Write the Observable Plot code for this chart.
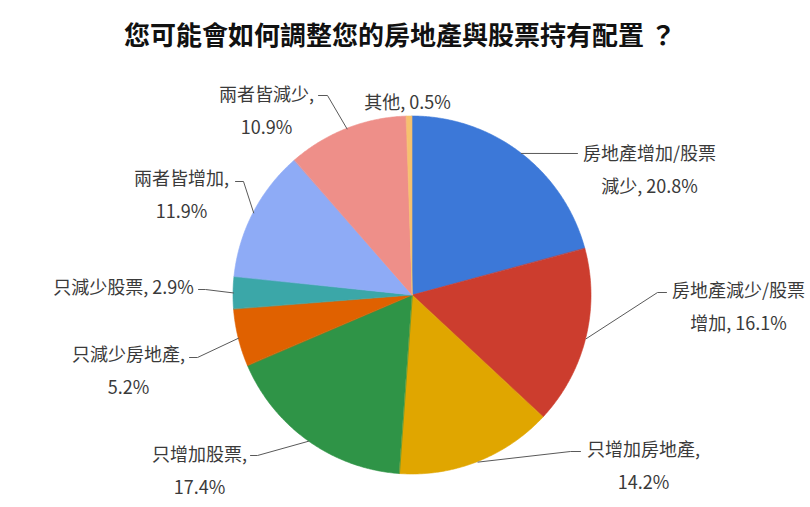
<!DOCTYPE html>
<html>
<head>
<meta charset="utf-8">
<script src="https://cdn.jsdelivr.net/npm/d3@7"></script>
<script src="https://cdn.jsdelivr.net/npm/@observablehq/plot@0.6"></script>
<style>
  html, body { margin: 0; padding: 0; background: #fff; }
  #title {
    height: 64px; box-sizing: border-box; padding-top: 5px; padding-right: 10px;
    line-height: 58px; text-align: center; font-size: 26px; font-weight: bold;
    font-family: "Noto Sans CJK TC", "Noto Sans", sans-serif; color: #111;
  }
  #chart svg { display: block; }
</style>
</head>
<body>
<div id="title">您可能會如何調整您的房地產與股票持有配置 ？</div>
<div id="chart"></div>
<script>
// ---- data ----
const categories = [
  "房地產增加/股票減少",
  "房地產減少/股票增加",
  "只增加房地產",
  "只增加股票",
  "只減少房地產",
  "只減少股票",
  "兩者皆增加",
  "兩者皆減少",
  "其他"
];
const values = [20.8, 16.1, 14.2, 17.4, 5.2, 2.9, 11.9, 10.9, 0.5];
const colors = ["#3c78d8", "#cc3d2e", "#e0a600", "#2f9447", "#e06100", "#3ba7a8", "#8eabf6", "#ee8f89", "#f6c16e"];

// ---- layout (pixel offsets from pie centre, y up) ----
const R = 179;
const layout = [
  {wrap: 8,      label: [237, 130],    leader: [[165, 142]]},
  {wrap: 8,      label: [326, -7],     leader: [[245, 3], [254, 3]]},
  {wrap: "name", label: [231, -166.5], leader: [[158, -156], [168, -156]]},
  {wrap: "name", label: [-213, -171],  leader: [[-155, -160], [-162, -160]]},
  {wrap: "name", label: [-284, -71.5], leader: [[-215, -62], [-223, -62]]},
  {wrap: null,   label: [-289, 12],    leader: [[-207, 6], [-214, 6]]},
  {wrap: "name", label: [-231, 104.5], leader: [[-169, 114], [-177, 114]]},
  {wrap: "name", label: [-146, 188.5], leader: [[-85, 200], [-94, 200]]},
  {wrap: null,   label: [-5, 197],     leader: []}
];

const total = d3.sum(values);
const slices = [];
let cum = 0;
categories.forEach((name, i) => {
  const a0 = cum / total * 2 * Math.PI;
  cum += values[i];
  const a1 = cum / total * 2 * Math.PI;
  slices.push({name, value: values[i], a0, a1, mid: (a0 + a1) / 2, i});
});

const arcPoints = [];
for (const s of slices) {
  const n = Math.max(2, Math.ceil((s.a1 - s.a0) / (Math.PI / 360)));
  for (let k = 0; k <= n; k++) {
    const a = s.a0 + (s.a1 - s.a0) * k / n;
    arcPoints.push({name: s.name, x: R * Math.sin(a), y: R * Math.cos(a), cx: 0, cy: 0});
  }
}

const leaderPoints = [];
const labelRows = [];
for (const s of slices) {
  const L = layout[s.i];
  if (L.leader.length) {
    leaderPoints.push({name: s.name, x: R * Math.sin(s.mid), y: R * Math.cos(s.mid)});
    for (const [x, y] of L.leader) leaderPoints.push({name: s.name, x, y});
  }
  const full = `${s.name}, ${s.value.toFixed(1)}%`;
  let text = full;
  if (L.wrap === "name") text = `${s.name},\n${s.value.toFixed(1)}%`;
  else if (typeof L.wrap === "number") text = full.slice(0, L.wrap) + "\n" + full.slice(L.wrap);
  labelRows.push({name: s.name, x: L.label[0], y: L.label[1], text});
}

const chart = Plot.plot({
  width: 810,
  height: 443,
  margin: 0,
  x: {domain: [-412, 398], axis: null},
  y: {domain: [-212, 231], axis: null},
  color: {domain: categories, range: colors},
  style: {fontFamily: '"Noto Sans CJK TC", "Noto Sans", sans-serif', background: "#fff", overflow: "visible"},
  marks: [
    Plot.area(arcPoints, {x1: "x", y1: "y", x2: "cx", y2: "cy", z: "name", fill: "name", stroke: "name", strokeWidth: 0.6}),
    Plot.line(leaderPoints, {x: "x", y: "y", z: "name", stroke: "#595959", strokeWidth: 1}),
    Plot.text(labelRows, {x: "x", y: "y", text: "text", fontSize: 18, lineHeight: 1.85, fill: "#3a3a3a", textAnchor: "middle"})
  ]
});
document.getElementById("chart").appendChild(chart);
</script>
</body>
</html>
